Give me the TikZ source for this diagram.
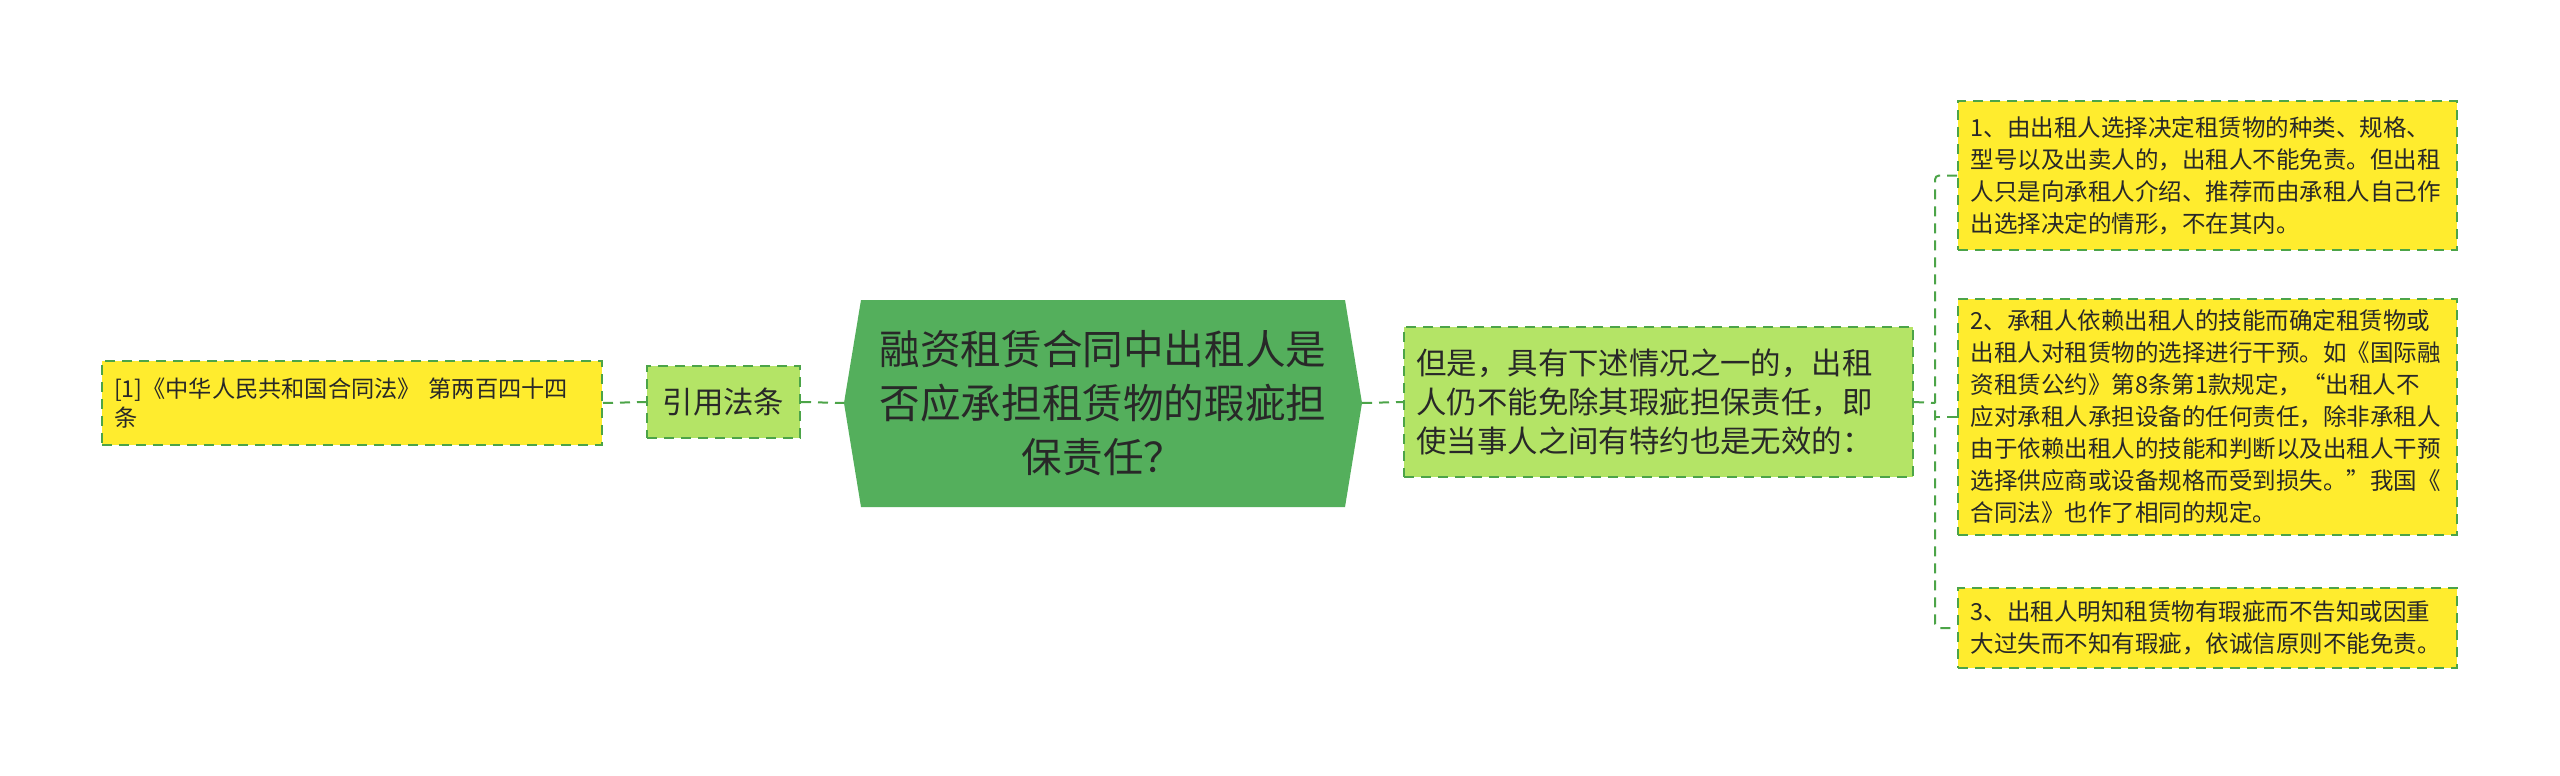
\documentclass[tikz,border=0pt]{standalone}
\usepackage{fontspec}
\setmainfont{Noto Sans CJK SC}
\definecolor{rootg}{RGB}{84,175,92}
\definecolor{lightg}{RGB}{180,228,102}
\definecolor{yel}{RGB}{255,236,46}
\definecolor{lineg}{RGB}{76,164,72}
\definecolor{txt}{RGB}{40,40,40}
\tikzset{
  conn/.style={draw=lineg, line width=1pt, dash pattern=on 5pt off 3.5pt},
  dbox/.style={draw=lineg, line width=1pt, dash pattern=on 5pt off 3.5pt, rectangle, inner sep=0pt, align=left, text=txt},
  ybox/.style={dbox, fill=yel, font=\fontsize{11.75pt}{16pt}\selectfont},
  gbox/.style={dbox, fill=lightg, font=\fontsize{15.2pt}{19.6pt}\selectfont},
}
\begin{document}
\begin{tikzpicture}[x=0.5pt,y=-0.5pt]
\useasboundingbox (0,0) rectangle (2560,776);
\fill[white] (0,0) rectangle (2560,776);
% root hexagon
\coordinate (rootL) at (844,403);
\coordinate (rootR) at (1362,403);
\fill[rootg] (rootL) -- (861,300) -- (1345,300) -- (rootR) -- (1345,507) -- (861,507) -- cycle;
\node[align=center, text=txt, font=\fontsize{20.3pt}{26.8pt}\selectfont] (root) at (1103,403)
  {融资租赁合同中出租人是\\否应承担租赁物的瑕疵担\\保责任？};
% left side
\node[ybox, font=\fontsize{11.6pt}{14.5pt}\selectfont, minimum width=250pt, minimum height=42pt, text width=238pt] (law) at (352,403)
  {[1]《中华人民共和国合同法》~第两百四十四\\条};
\node[gbox, minimum width=76.5pt, minimum height=36pt, align=center] (ref) at (723.5,402) {引用法条};
% middle right
\node[gbox, minimum width=254.5pt, minimum height=75pt, text width=242pt] (dan) at (1658.5,402)
  {但是，具有下述情况之一的，出租\\人仍不能免除其瑕疵担保责任，即\\使当事人之间有特约也是无效的：};
% right children
\node[ybox, minimum width=249.5pt, minimum height=74.5pt, text width=237pt] (n1) at (2207.5,175.5)
  {1、由出租人选择决定租赁物的种类、规格、\\型号以及出卖人的，出租人不能免责。但出租\\人只是向承租人介绍、推荐而由承租人自己作\\出选择决定的情形，不在其内。};
\node[ybox, minimum width=249.5pt, minimum height=118pt, text width=237pt] (n2) at (2207.5,417)
  {2、承租人依赖出租人的技能而确定租赁物或\\出租人对租赁物的选择进行干预。如《国际融\\资租赁公约》第8条第1款规定，“出租人不\\应对承租人承担设备的任何责任，除非承租人\\由于依赖出租人的技能和判断以及出租人干预\\选择供应商或设备规格而受到损失。”我国《\\合同法》也作了相同的规定。};
\node[ybox, minimum width=249.5pt, minimum height=40pt, text width=237pt] (n3) at (2207.5,628)
  {3、出租人明知租赁物有瑕疵而不告知或因重\\大过失而不知有瑕疵，依诚信原则不能免责。};
% connectors
\draw[conn] (law.east) -- (ref.west);
\draw[conn] (ref.east) -- (rootL);
\draw[conn] (rootR) -- (dan.west);
\coordinate (bus) at (1935,403);
\draw[conn] (dan.east) -- (bus);
\draw[conn, rounded corners=2pt] (n1.west) -- ([xshift=-11pt]n1.west) |- (n3.west);
\draw[conn] (n2.west) -- ([xshift=-11pt]n2.west);
\end{tikzpicture}
\end{document}
